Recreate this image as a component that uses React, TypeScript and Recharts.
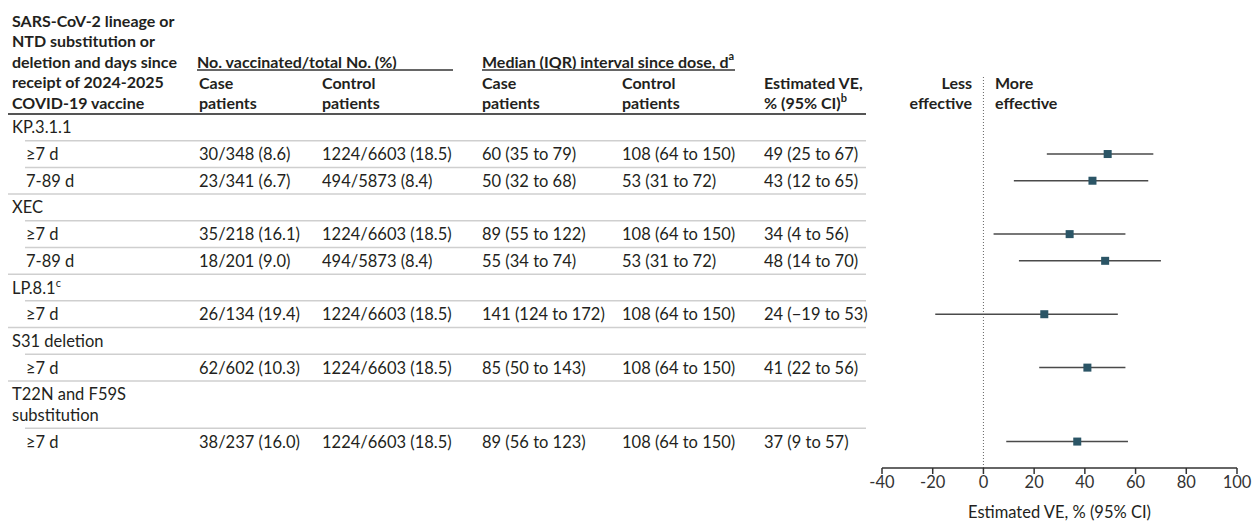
import React from 'react';
import { ScatterChart, Scatter, XAxis, YAxis, ReferenceLine, ErrorBar } from 'recharts';

// table rows, top to bottom ('\n' = wrapped label)
const rowLabels = [
  'KP.3.1.1', '≥7 d', '7-89 d',
  'XEC', '≥7 d', '7-89 d',
  'LP.8.1', '≥7 d',
  'S31 deletion', '≥7 d',
  'T22N and F59S\nsubstitution', '≥7 d',
];
const rowNotes = ['', '', '', '', '', '', 'c', '', '', '', '', ''];
const isSubRow = [false, true, true, false, true, true, false, true, false, true, false, true];

const caseVaccinated = ['', '30/348 (8.6)', '23/341 (6.7)', '', '35/218 (16.1)', '18/201 (9.0)', '', '26/134 (19.4)', '', '62/602 (10.3)', '', '38/237 (16.0)'];
const controlVaccinated = ['', '1224/6603 (18.5)', '494/5873 (8.4)', '', '1224/6603 (18.5)', '494/5873 (8.4)', '', '1224/6603 (18.5)', '', '1224/6603 (18.5)', '', '1224/6603 (18.5)'];
const caseInterval = ['', '60 (35 to 79)', '50 (32 to 68)', '', '89 (55 to 122)', '55 (34 to 74)', '', '141 (124 to 172)', '', '85 (50 to 143)', '', '89 (56 to 123)'];
const controlInterval = ['', '108 (64 to 150)', '53 (31 to 72)', '', '108 (64 to 150)', '53 (31 to 72)', '', '108 (64 to 150)', '', '108 (64 to 150)', '', '108 (64 to 150)'];
const veText = ['', '49 (25 to 67)', '43 (12 to 65)', '', '34 (4 to 56)', '48 (14 to 70)', '', '24 (−19 to 53)', '', '41 (22 to 56)', '', '37 (9 to 57)'];

const veEstimate = [null, 49, 43, null, 34, 48, null, 24, null, 41, null, 37];
const veLower = [null, 25, 12, null, 4, 14, null, -19, null, 22, null, 9];
const veUpper = [null, 67, 65, null, 56, 70, null, 53, null, 56, null, 57];

const xTicks = [-40, -20, 0, 20, 40, 60, 80, 100];

const FONT = 'Lato, "Noto Sans", sans-serif';
const INK = '#231f20';
const LINE = 0.77; // extra height of a wrapped line, in row units
const Y_DOMAIN = [-1.46, 13.26];
const COL = { label: 12, sub: 26, caseN: 199, ctrlN: 322, caseI: 482, ctrlI: 622, ve: 764, end: 866 };

// lay rows out in row units
let cursor = 0;
const layout = rowLabels.map((label, i) => {
  const lines = label.split('\n');
  const h = 1 + (lines.length - 1) * LINE;
  const top = cursor;
  cursor += h;
  return { i, lines, top, h };
});

const textLines = layout.flatMap((r) =>
  r.lines.map((line, k) => ({
    y: +(r.top + 0.5 + k * LINE).toFixed(4),
    label: line,
    note: k === r.lines.length - 1 ? rowNotes[r.i] : '',
    sub: isSubRow[r.i],
    cells: k === 0 ? [caseVaccinated[r.i], controlVaccinated[r.i], caseInterval[r.i], controlInterval[r.i], veText[r.i]] : [],
  }))
);

const separators = layout.slice(0, -1).map((r) => ({
  y: +(r.top + r.h).toFixed(4),
  indent: isSubRow[r.i + 1],
}));

const veData = layout
  .filter((r) => veEstimate[r.i] !== null)
  .map((r) => ({
    x: veEstimate[r.i] as number,
    y: r.top + 0.5,
    err: [(veEstimate[r.i] as number) - (veLower[r.i] as number), (veUpper[r.i] as number) - (veEstimate[r.i] as number)],
  }));

const findBy = <T extends { y: number }>(list: T[], v: number) => list.find((t) => Math.abs(t.y - v) < 1e-3);

const RowText = (p: any) => {
  const row = findBy(textLines, Number(p.payload?.value));
  if (!row) return <g />;
  const cols = [COL.caseN, COL.ctrlN, COL.caseI, COL.ctrlI, COL.ve];
  return (
    <g fontFamily={FONT} fontSize={16.5} fill={INK}>
      <text x={row.sub ? COL.sub : COL.label} y={p.y} dominantBaseline="central">
        {row.label}
        {row.note && <tspan dy={-6} fontSize={11}>{row.note}</tspan>}
      </text>
      {row.cells.map((c: string, j: number) => (
        <text key={j} x={cols[j]} y={p.y} dominantBaseline="central">{c}</text>
      ))}
    </g>
  );
};

const Separator = (p: any) => {
  const s = findBy(separators, Number(p.payload?.value));
  if (!s) return <g />;
  return <line x1={s.indent ? 25 : 8} x2={COL.end} y1={p.y} y2={p.y} stroke="#cfcfcf" strokeWidth={1.5} />;
};

const Marker = (p: any) => <rect x={p.cx - 4} y={p.cy - 4} width={8} height={8} fill="#2b5566" />;

function Header() {
  const b = { fontFamily: FONT, fontSize: 16, fontWeight: 700, fill: INK } as const;
  const col0 = ['SARS-CoV-2 lineage or', 'NTD substitution or', 'deletion and days since', 'receipt of 2024-2025', 'COVID-19 vaccine'];
  return (
    <svg width={1256} height={521} style={{ position: 'absolute', left: 0, top: 0, pointerEvents: 'none' }}>
      {col0.map((t, k) => (
        <text key={k} x={COL.label} y={20 + k * 20.5} dominantBaseline="central" {...b}>{t}</text>
      ))}
      <text x={197} y={61} dominantBaseline="central" {...b}>No. vaccinated/total No. (%)</text>
      <line x1={197} x2={453} y1={70} y2={70} stroke="#666" strokeWidth={2} />
      <text x={COL.caseI} y={61} dominantBaseline="central" {...b}>
        Median (IQR) interval since dose, d<tspan dy={-6} fontSize={11}>a</tspan>
      </text>
      <line x1={COL.caseI} x2={735} y1={70} y2={70} stroke="#666" strokeWidth={2} />
      {[COL.caseN, COL.caseI].map((x) => (
        <g key={x}>
          <text x={x} y={82} dominantBaseline="central" {...b}>Case</text>
          <text x={x} y={102.5} dominantBaseline="central" {...b}>patients</text>
        </g>
      ))}
      {[COL.ctrlN, COL.ctrlI].map((x) => (
        <g key={x}>
          <text x={x} y={82} dominantBaseline="central" {...b}>Control</text>
          <text x={x} y={102.5} dominantBaseline="central" {...b}>patients</text>
        </g>
      ))}
      <text x={COL.ve} y={82} dominantBaseline="central" {...b}>Estimated VE,</text>
      <text x={COL.ve} y={102.5} dominantBaseline="central" {...b}>
        % (95% CI)<tspan dy={-6} fontSize={11}>b</tspan>
      </text>
      <text x={972} y={82} textAnchor="end" dominantBaseline="central" {...b}>Less</text>
      <text x={972} y={102.5} textAnchor="end" dominantBaseline="central" {...b}>effective</text>
      <text x={995} y={82} dominantBaseline="central" {...b}>More</text>
      <text x={995} y={102.5} dominantBaseline="central" {...b}>effective</text>
      <line x1={8} x2={COL.end} y1={114} y2={114} stroke="#555" strokeWidth={2} />
    </svg>
  );
}

export default function App() {
  return (
    <div style={{ position: 'absolute', left: 0, top: 0, width: 1256, height: 521, background: '#fff' }}>
      <ScatterChart width={1256} height={521} margin={{ top: 75, right: 19, bottom: 0, left: 880 }}>
        <XAxis
          type="number"
          dataKey="x"
          domain={[-40, 100]}
          ticks={xTicks}
          allowDataOverflow
          height={53}
          tickSize={6}
          axisLine={{ stroke: '#333', strokeWidth: 1.5 }}
          tickLine={{ stroke: '#333', strokeWidth: 1.5 }}
          tick={{ fill: '#333', fontSize: 16.5, fontFamily: FONT }}
          label={{ value: 'Estimated VE, % (95% CI)', position: 'insideBottom', offset: 3, fill: INK, fontSize: 16.5, fontFamily: FONT }}
        />
        <YAxis
          yAxisId="sep"
          type="number"
          domain={Y_DOMAIN}
          reversed
          allowDataOverflow
          width={1}
          axisLine={false}
          tickLine={false}
          interval={0}
          ticks={separators.map((s) => s.y)}
          tick={Separator}
        />
        <YAxis
          yAxisId="rows"
          type="number"
          dataKey="y"
          domain={Y_DOMAIN}
          reversed
          allowDataOverflow
          width={1}
          axisLine={false}
          tickLine={false}
          interval={0}
          ticks={textLines.map((t) => t.y)}
          tick={RowText}
        />
        <ReferenceLine yAxisId="rows" x={0} stroke="#666" strokeDasharray="1 2" />
        <Scatter yAxisId="rows" data={veData} shape={Marker} isAnimationActive={false}>
          <ErrorBar dataKey="err" direction="x" width={0} stroke="#4a4a4a" strokeWidth={1.5} />
        </Scatter>
      </ScatterChart>
      <Header />
    </div>
  );
}
